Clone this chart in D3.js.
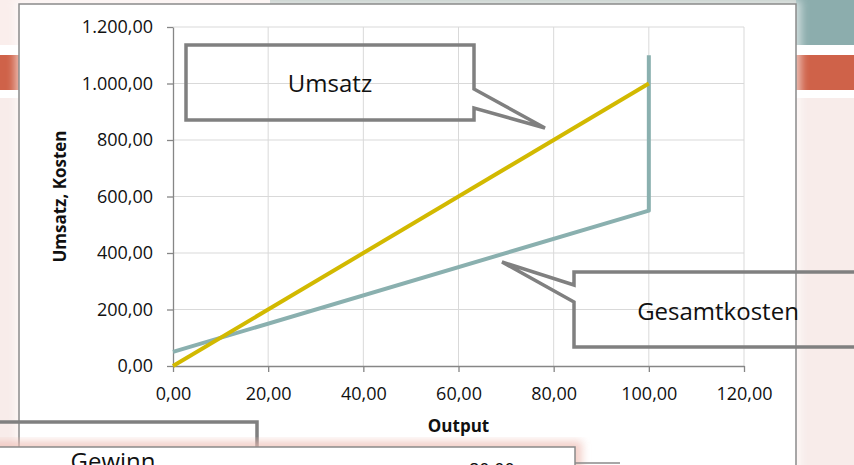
<!DOCTYPE html>
<html>
<head>
<meta charset="utf-8">
<script src="https://cdn.jsdelivr.net/npm/d3@7"></script>
<style>
  body { margin: 0; background: #f8ecea; }
  svg { display: block; font-family: "Open Sans", sans-serif; }
</style>
</head>
<body>
<svg id="chart" width="854" height="465"></svg>
<script>
// data
var outputX = [0, 100];
var umsatz = [0, 1000];
var kostenX = [0, 100, 100];
var kosten = [50, 550, 1100];
var xTicks = [0, 20, 40, 60, 80, 100, 120];
var yTicks = [0, 200, 400, 600, 800, 1000, 1200];
var calloutLabels = ["Umsatz", "Gesamtkosten", "Gewinn"];
var tableLabel = "80,00";

var de = d3.formatLocale({decimal: ",", thousands: ".", grouping: [3], currency: ["", "€"]});
var fmt = de.format(",.2f");

const svg = d3.select('#chart');

// slide background
svg.append('rect').attr('x', 0).attr('y', 0).attr('width', 854).attr('height', 465).attr('fill', '#f8ecea');
svg.append('rect').attr('x', 0).attr('y', 0).attr('width', 854).attr('height', 45).attr('fill', '#faeeec');
svg.append('rect').attr('x', 270).attr('y', 0).attr('width', 584).attr('height', 5).attr('fill', '#b9c4c0');
svg.append('rect').attr('x', 796).attr('y', 0).attr('width', 58).attr('height', 45).attr('fill', '#8cadad');
svg.append('rect').attr('x', 0).attr('y', 45).attr('width', 854).attr('height', 53).attr('fill', '#ffffff');
svg.append('rect').attr('x', 0).attr('y', 55).attr('width', 854).attr('height', 35).attr('fill', '#cf6249');

const defs = svg.append('defs');
defs.append('filter').attr('id', 'glow').attr('x', '-10%').attr('y', '-10%').attr('width', '120%').attr('height', '120%')
    .append('feGaussianBlur').attr('stdDeviation', 4);

// chart area
svg.append('rect').attr('x', 15).attr('y', 0).attr('width', 786).attr('height', 480)
    .attr('fill', '#ffffff').attr('opacity', 0.6).attr('filter', 'url(#glow)');
svg.append('rect').attr('x', 19).attr('y', 4).attr('width', 777).attr('height', 480)
    .attr('fill', '#ffffff').attr('stroke', '#8a8a8a').attr('stroke-width', 1.5);

const x = d3.scaleLinear().domain([0, 120]).range([173, 744]);
const y = d3.scaleLinear().domain([0, 1200]).range([366, 27]);

// grid
svg.append('g').selectAll('line').data(yTicks.slice(1)).enter().append('line')
    .attr('x1', x(0)).attr('x2', x(120))
    .attr('y1', d => y(d)).attr('y2', d => y(d))
    .attr('stroke', '#d9d9d9').attr('stroke-width', 1);
svg.append('g').selectAll('line').data(xTicks.slice(1)).enter().append('line')
    .attr('x1', d => x(d)).attr('x2', d => x(d))
    .attr('y1', y(0)).attr('y2', y(1200))
    .attr('stroke', '#d9d9d9').attr('stroke-width', 1);

// axes
const gx = svg.append('g').attr('transform', 'translate(0,' + y(0) + ')')
    .call(d3.axisBottom(x).tickValues(xTicks).tickFormat(fmt).tickSize(6).tickSizeOuter(0).tickPadding(15));
const gy = svg.append('g').attr('transform', 'translate(' + x(0) + ',0)')
    .call(d3.axisLeft(y).tickValues(yTicks).tickFormat(fmt).tickSize(6).tickSizeOuter(0).tickPadding(14));
[gx, gy].forEach(g => {
    g.select('.domain').attr('stroke', '#868686').attr('stroke-width', 1.3);
    g.selectAll('.tick line').attr('stroke', '#868686').attr('stroke-width', 1.3);
    g.selectAll('.tick text').attr('fill', '#111').style('font-size', '18px').style('font-family', '"Open Sans", sans-serif');
});

svg.append('text').attr('x', (x(0) + x(120)) / 2).attr('y', 432)
    .attr('text-anchor', 'middle').attr('font-weight', 'bold').attr('font-size', 17).attr('fill', '#111')
    .text('Output');
svg.append('text').attr('transform', 'translate(65.5,' + (y(0) + y(1200)) / 2 + ') rotate(-90)')
    .attr('text-anchor', 'middle').attr('font-weight', 'bold').attr('font-size', 17).attr('fill', '#111')
    .text('Umsatz, Kosten');

// series
const lineU = d3.line().x((d, i) => x(outputX[i])).y(d => y(d));
const lineK = d3.line().x((d, i) => x(kostenX[i])).y(d => y(d));
svg.append('path').datum(kosten).attr('d', lineK)
    .attr('fill', 'none').attr('stroke', '#8ab0af').attr('stroke-width', 4)
    .attr('stroke-linejoin', 'round');
svg.append('path').datum(umsatz).attr('d', lineU)
    .attr('fill', 'none').attr('stroke', '#d2b900').attr('stroke-width', 4)
    .attr('stroke-linejoin', 'round');

// callouts
const callout = svg.append('g').attr('fill', 'none').attr('stroke', '#808080').attr('stroke-width', 3.5).attr('stroke-linejoin', 'miter');
callout.append('path').attr('d', 'M186,45 H474 V89 L545,128 L474,108 V120 H186 Z');
callout.append('path').attr('d', 'M870,272 H574 V285 L502,262 L574,302 V347 H870');

svg.append('text').attr('x', 330).attr('y', 92).attr('text-anchor', 'middle')
    .attr('font-size', 24).attr('fill', '#111').text(calloutLabels[0]);
svg.append('text').attr('x', 718).attr('y', 320).attr('text-anchor', 'middle')
    .attr('font-size', 24).attr('fill', '#111').text(calloutLabels[1]);

// lower overlapping boxes
svg.append('rect').attr('x', -10).attr('y', 441).attr('width', 592).attr('height', 40)
    .attr('fill', '#eebbb2').attr('opacity', 0.7).attr('filter', 'url(#glow)');
svg.append('rect').attr('x', -10).attr('y', 447).attr('width', 585).attr('height', 40)
    .attr('fill', '#ffffff').attr('stroke', '#8a8a8a').attr('stroke-width', 1.5);
svg.append('line').attr('x1', 575).attr('x2', 620).attr('y1', 463).attr('y2', 463)
    .attr('stroke', '#8a8a8a').attr('stroke-width', 1.5);
svg.append('text').attr('x', 492).attr('y', 476).attr('text-anchor', 'middle')
    .attr('font-size', 18).attr('fill', '#111').text(tableLabel);

callout.append('path').attr('d', 'M-10,422 H257 V480');
svg.append('text').attr('x', 113).attr('y', 470).attr('text-anchor', 'middle')
    .attr('font-size', 24).attr('fill', '#111').text(calloutLabels[2]);
</script>
</body>
</html>
